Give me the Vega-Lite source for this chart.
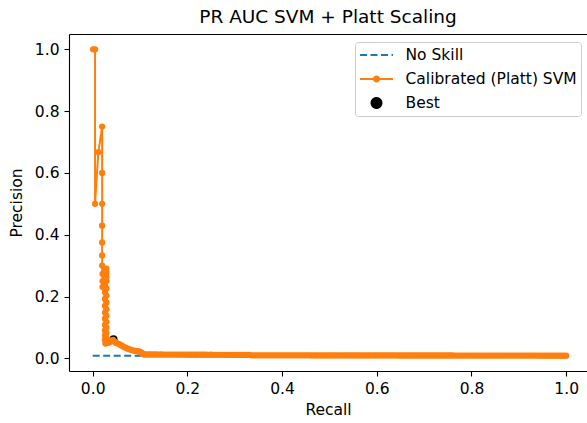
{
  "$schema": "https://vega.github.io/schema/vega-lite/v6.json",
  "width": 518,
  "height": 337,
  "autosize": "none",
  "padding": {"left": 69, "top": 34, "right": 0, "bottom": 52},
  "title": {"text": "PR AUC SVM + Platt Scaling", "fontSize": 18.5, "fontWeight": "normal", "color": "#000000", "offset": 8, "frame": "group", "font": "DejaVu Sans"},
  "datasets": {
    "best": [{"r": 0.044, "p": 0.062}],
    "noskill": [{"r": 0, "p": 0.0087}, {"r": 1, "p": 0.0087}],
    "svm": [
      {"r":0.001,"p":1.0},{"r":0.005,"p":1.0},{"r":0.005,"p":0.5},{"r":0.012,"p":0.667},{"r":0.02,"p":0.75},
      {"r":0.02,"p":0.6},{"r":0.02,"p":0.5},{"r":0.02,"p":0.429},{"r":0.02,"p":0.375},{"r":0.02,"p":0.333},
      {"r":0.02,"p":0.3},{"r":0.021,"p":0.273},{"r":0.021,"p":0.25},{"r":0.021,"p":0.231},{"r":0.025,"p":0.286},
      {"r":0.025,"p":0.267},{"r":0.025,"p":0.25},{"r":0.025,"p":0.235},{"r":0.029,"p":0.29},{"r":0.029,"p":0.276},
      {"r":0.029,"p":0.262},{"r":0.029,"p":0.25},{"r":0.026,"p":0.238},{"r":0.029,"p":0.226},{"r":0.026,"p":0.214},
      {"r":0.029,"p":0.203},{"r":0.026,"p":0.192},{"r":0.029,"p":0.181},{"r":0.026,"p":0.17},{"r":0.029,"p":0.159},
      {"r":0.026,"p":0.148},{"r":0.029,"p":0.138},{"r":0.026,"p":0.128},{"r":0.029,"p":0.118},{"r":0.026,"p":0.108},
      {"r":0.029,"p":0.099},{"r":0.026,"p":0.09},{"r":0.029,"p":0.082},{"r":0.026,"p":0.074},{"r":0.029,"p":0.067},
      {"r":0.026,"p":0.06},{"r":0.029,"p":0.054},{"r":0.027,"p":0.048},{"r":0.032,"p":0.05},{"r":0.036,"p":0.052},
      {"r":0.04,"p":0.057},{"r":0.043,"p":0.06},{"r":0.046,"p":0.054},{"r":0.05,"p":0.05},{"r":0.054,"p":0.047},
      {"r":0.058,"p":0.044},{"r":0.062,"p":0.041},{"r":0.066,"p":0.037},{"r":0.07,"p":0.034},{"r":0.074,"p":0.031},
      {"r":0.078,"p":0.029},{"r":0.082,"p":0.027},{"r":0.086,"p":0.025},{"r":0.09,"p":0.024},{"r":0.094,"p":0.023},
      {"r":0.098,"p":0.022},{"r":0.102,"p":0.02},{"r":0.105,"p":0.016},{"r":0.108,"p":0.013},
      {"r":0.110,"p":0.0125},{"r":0.115,"p":0.0124},{"r":0.120,"p":0.0125},{"r":0.125,"p":0.0124},{"r":0.130,"p":0.0123},
      {"r":0.135,"p":0.0124},{"r":0.140,"p":0.0122},{"r":0.145,"p":0.0123},{"r":0.150,"p":0.0122},{"r":0.155,"p":0.0121},
      {"r":0.160,"p":0.0122},{"r":0.165,"p":0.0120},{"r":0.170,"p":0.0121},{"r":0.175,"p":0.0120},{"r":0.180,"p":0.0119},
      {"r":0.185,"p":0.0120},{"r":0.190,"p":0.0118},{"r":0.195,"p":0.0119},{"r":0.200,"p":0.0118},{"r":0.205,"p":0.0117},
      {"r":0.210,"p":0.0118},{"r":0.215,"p":0.0117},{"r":0.220,"p":0.0116},{"r":0.225,"p":0.0117},{"r":0.230,"p":0.0115},
      {"r":0.235,"p":0.0116},{"r":0.240,"p":0.0115},{"r":0.245,"p":0.0114},{"r":0.250,"p":0.0115},{"r":0.255,"p":0.0114},
      {"r":0.260,"p":0.0113},{"r":0.265,"p":0.0114},{"r":0.270,"p":0.0113},{"r":0.275,"p":0.0112},{"r":0.280,"p":0.0113},
      {"r":0.285,"p":0.0112},{"r":0.290,"p":0.0111},{"r":0.295,"p":0.0112},{"r":0.300,"p":0.0111},{"r":0.305,"p":0.0110},
      {"r":0.310,"p":0.0111},{"r":0.315,"p":0.0110},{"r":0.320,"p":0.0110},{"r":0.325,"p":0.0109},{"r":0.330,"p":0.0109},
      {"r":0.335,"p":0.0098},{"r":0.340,"p":0.0098},{"r":0.345,"p":0.0097},{"r":0.350,"p":0.0097},{"r":0.355,"p":0.0097},
      {"r":0.360,"p":0.0097},{"r":0.365,"p":0.0097},{"r":0.370,"p":0.0097},{"r":0.375,"p":0.0097},{"r":0.380,"p":0.0097},
      {"r":0.385,"p":0.0097},{"r":0.390,"p":0.0097},{"r":0.395,"p":0.0097},{"r":0.400,"p":0.0097},{"r":0.405,"p":0.0096},
      {"r":0.410,"p":0.0096},{"r":0.415,"p":0.0096},{"r":0.420,"p":0.0096},{"r":0.425,"p":0.0096},{"r":0.430,"p":0.0096},
      {"r":0.435,"p":0.0096},{"r":0.440,"p":0.0096},{"r":0.445,"p":0.0096},{"r":0.450,"p":0.0096},{"r":0.455,"p":0.0096},
      {"r":0.460,"p":0.0096},{"r":0.465,"p":0.0095},{"r":0.470,"p":0.0095},{"r":0.475,"p":0.0095},{"r":0.480,"p":0.0095},
      {"r":0.485,"p":0.0095},{"r":0.490,"p":0.0095},{"r":0.495,"p":0.0095},{"r":0.500,"p":0.0095},{"r":0.505,"p":0.0095},
      {"r":0.510,"p":0.0095},{"r":0.515,"p":0.0095},{"r":0.520,"p":0.0095},{"r":0.525,"p":0.0094},{"r":0.530,"p":0.0094},
      {"r":0.535,"p":0.0094},{"r":0.540,"p":0.0094},{"r":0.545,"p":0.0094},{"r":0.550,"p":0.0094},{"r":0.555,"p":0.0094},
      {"r":0.560,"p":0.0094},{"r":0.565,"p":0.0094},{"r":0.570,"p":0.0094},{"r":0.575,"p":0.0094},{"r":0.580,"p":0.0094},
      {"r":0.585,"p":0.0093},{"r":0.590,"p":0.0093},{"r":0.595,"p":0.0093},{"r":0.600,"p":0.0093},{"r":0.605,"p":0.0093},
      {"r":0.610,"p":0.0093},{"r":0.615,"p":0.0093},{"r":0.620,"p":0.0093},{"r":0.625,"p":0.0093},{"r":0.630,"p":0.0093},
      {"r":0.635,"p":0.0093},{"r":0.640,"p":0.0093},{"r":0.645,"p":0.0092},{"r":0.650,"p":0.0092},{"r":0.655,"p":0.0092},
      {"r":0.660,"p":0.0092},{"r":0.665,"p":0.0092},{"r":0.670,"p":0.0092},{"r":0.675,"p":0.0092},{"r":0.680,"p":0.0092},
      {"r":0.685,"p":0.0092},{"r":0.690,"p":0.0092},{"r":0.695,"p":0.0092},{"r":0.700,"p":0.0092},{"r":0.705,"p":0.0091},
      {"r":0.710,"p":0.0091},{"r":0.715,"p":0.0091},{"r":0.720,"p":0.0091},{"r":0.725,"p":0.0091},{"r":0.730,"p":0.0091},
      {"r":0.735,"p":0.0091},{"r":0.740,"p":0.0091},{"r":0.745,"p":0.0091},{"r":0.750,"p":0.0091},{"r":0.755,"p":0.0091},
      {"r":0.760,"p":0.0091},{"r":0.765,"p":0.0090},{"r":0.770,"p":0.0090},{"r":0.775,"p":0.0090},{"r":0.780,"p":0.0090},
      {"r":0.785,"p":0.0090},{"r":0.790,"p":0.0090},{"r":0.795,"p":0.0090},{"r":0.800,"p":0.0090},{"r":0.805,"p":0.0090},
      {"r":0.810,"p":0.0090},{"r":0.815,"p":0.0090},{"r":0.820,"p":0.0090},{"r":0.825,"p":0.0089},{"r":0.830,"p":0.0089},
      {"r":0.835,"p":0.0089},{"r":0.840,"p":0.0089},{"r":0.845,"p":0.0089},{"r":0.850,"p":0.0089},{"r":0.855,"p":0.0089},
      {"r":0.860,"p":0.0089},{"r":0.865,"p":0.0089},{"r":0.870,"p":0.0089},{"r":0.875,"p":0.0089},{"r":0.880,"p":0.0089},
      {"r":0.885,"p":0.0088},{"r":0.890,"p":0.0088},{"r":0.895,"p":0.0088},{"r":0.900,"p":0.0088},{"r":0.905,"p":0.0088},
      {"r":0.910,"p":0.0088},{"r":0.915,"p":0.0088},{"r":0.920,"p":0.0088},{"r":0.925,"p":0.0088},{"r":0.930,"p":0.0088},
      {"r":0.935,"p":0.0088},{"r":0.940,"p":0.0088},{"r":0.945,"p":0.0087},{"r":0.950,"p":0.0087},{"r":0.955,"p":0.0087},
      {"r":0.960,"p":0.0087},{"r":0.965,"p":0.0087},{"r":0.970,"p":0.0087},{"r":0.975,"p":0.0087},{"r":0.980,"p":0.0087},
      {"r":0.985,"p":0.0087},{"r":0.990,"p":0.0087},{"r":0.995,"p":0.0087},{"r":1.000,"p":0.0087}
    ]
  },
  "config": {
    "font": "DejaVu Sans",
    "view": {"stroke": null},
    "axis": {
      "grid": false,
      "domainColor": "#000000",
      "domainWidth": 1.1,
      "tickColor": "#000000",
      "tickWidth": 1.1,
      "tickSize": 5,
      "labelFontSize": 15.5,
      "labelColor": "#000000",
      "labelPadding": 5,
      "titleFontSize": 15.5,
      "titleFontWeight": "normal",
      "titleColor": "#000000"
    }
  },
  "resolve": {"axis": {"x": "independent"}},
  "layer": [
    {
      "data": {"name": "best"},
      "mark": {"type": "point", "filled": true, "size": 64, "opacity": 1},
      "encoding": {
        "x": {"field": "r", "type": "quantitative", "scale": {"domain": [-0.05, 1.044], "nice": false, "zero": false}, "axis": null},
        "y": {"field": "p", "type": "quantitative", "scale": {"domain": [-0.041, 1.0495], "nice": false, "zero": false}, "title": "Precision", "axis": {"values": [0, 0.2, 0.4, 0.6, 0.8, 1.0], "format": ".1f", "titlePadding": 10}},
        "color": {
          "datum": "Best",
          "scale": {"domain": ["No Skill", "Calibrated (Platt) SVM", "Best"], "range": ["#1f77b4", "#ff7f0e", "#000000"]},
          "legend": {
            "title": null,
            "orient": "none",
            "legendX": 286,
            "legendY": 8,
            "fillColor": "#ffffff",
            "strokeColor": "#cccccc",
            "cornerRadius": 3,
            "padding": 4,
            "labelFontSize": 15.5,
            "labelColor": "#000000",
            "labelLimit": 400,
            "symbolSize": 256,
            "symbolStrokeWidth": 2,
            "symbolOffset": 8.5,
            "labelOffset": 20,
            "rowPadding": 6,
            "encoding": {
              "symbols": {
                "shape": {"value": {"expr": "datum.value === 'No Skill' ? 'M-2.06,0H2.06' : datum.value === 'Best' ? 'M-0.62,0A0.62,0.62,0,1,1,0.62,0A0.62,0.62,0,1,1,-0.62,0Z' : 'M-2.06,0H2.06M-0.31,0A0.31,0.31,0,1,1,0.31,0A0.31,0.31,0,1,1,-0.31,0Z'"}},
                "size": {"value": 256},
                "fill": {"value": {"expr": "datum.value === 'No Skill' ? 'transparent' : datum.value === 'Best' ? '#000000' : '#ff7f0e'"}},
                "stroke": {"value": {"expr": "datum.value === 'No Skill' ? '#1f77b4' : datum.value === 'Best' ? 'transparent' : '#ff7f0e'"}},
                "strokeDash": {"value": {"expr": "datum.value === 'No Skill' ? [7, 3.5] : [1, 0]"}},
                "strokeWidth": {"value": 2},
                "opacity": {"value": 1}
              }
            }
          }
        }
      }
    },
    {
      "data": {"name": "noskill"},
      "mark": {"type": "line", "strokeWidth": 2, "strokeDash": [7, 3.5]},
      "encoding": {
        "x": {"field": "r", "type": "quantitative", "scale": {"domain": [-0.05, 1.044], "nice": false, "zero": false}, "title": "Recall", "axis": {"values": [0, 0.2, 0.4, 0.6, 0.8, 1.0], "format": ".1f", "titlePadding": 6}},
        "y": {"field": "p", "type": "quantitative", "scale": {"domain": [-0.041, 1.0495], "nice": false, "zero": false}, "title": "Precision"},
        "color": {"datum": "No Skill"}
      }
    },
    {
      "data": {"name": "svm"},
      "mark": {"type": "line", "strokeWidth": 2, "point": {"filled": true, "size": 40, "opacity": 1}},
      "encoding": {
        "x": {"field": "r", "type": "quantitative", "scale": {"domain": [-0.05, 1.044], "nice": false, "zero": false}, "axis": {"orient": "top", "labels": false, "ticks": false, "title": null, "domain": true}},
        "y": {"field": "p", "type": "quantitative", "scale": {"domain": [-0.041, 1.0495], "nice": false, "zero": false}, "title": "Precision"},
        "color": {"datum": "Calibrated (Platt) SVM"},
        "order": {"value": null}
      }
    }
  ]
}
